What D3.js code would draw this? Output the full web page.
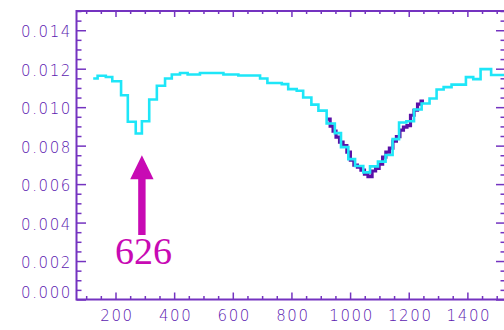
<!DOCTYPE html>
<html>
<head>
<meta charset="utf-8">
<script src="https://cdn.jsdelivr.net/npm/d3@7"></script>
<style>
  body { margin: 0; background: #fff; }
  svg { display: block; }
</style>
</head>
<body>
<figure id="spectrum" style="margin:0"></figure>
<script>
// step series: x = left edge of each step, y = value on that step
var cyanX = [124, 139, 167, 189, 219, 242, 269, 290, 315, 341, 369, 392, 420, 446, 488, 568, 619,
  693, 718, 767, 789, 818, 840, 868, 892, 920, 948, 969, 994, 1017, 1045, 1068, 1095, 1121,
  1145, 1167, 1192, 1218, 1244, 1271, 1295, 1319, 1346, 1395, 1420, 1445, 1481];
var cyanY = [0.01149, 0.01163, 0.01157, 0.01135, 0.01062, 0.00924, 0.00863, 0.00927, 0.01040,
  0.01111, 0.01149, 0.01170, 0.01178, 0.01170, 0.01178, 0.01170, 0.01165, 0.01149, 0.01126,
  0.01120, 0.01094, 0.01085, 0.01050, 0.01013, 0.00982, 0.00915, 0.00865, 0.00792, 0.00730,
  0.00694, 0.00661, 0.00692, 0.00717, 0.00751, 0.00834, 0.00920, 0.00927, 0.00988, 0.01019,
  0.01045, 0.01092, 0.01104, 0.01117, 0.01156, 0.01146, 0.01198, 0.01167];
var cyanEnd = 1530;

var purpleX = [920, 932, 942, 952, 964, 976, 989, 1001, 1013, 1025, 1037, 1049, 1061, 1075,
  1087, 1099, 1111, 1122, 1134, 1146, 1158, 1170, 1182, 1194, 1206, 1218, 1230, 1242];
var purpleY = [0.00938, 0.00901, 0.00875, 0.00844, 0.00818, 0.00800, 0.00766, 0.00725, 0.00699,
  0.00688, 0.00673, 0.00652, 0.00639, 0.00668, 0.00681, 0.00704, 0.00740, 0.00766, 0.00787,
  0.00823, 0.00847, 0.00881, 0.00896, 0.00904, 0.00958, 0.00984, 0.01016, 0.01031];
var purpleEnd = 1252;

var xTicks = [200, 400, 600, 800, 1000, 1200, 1400];
var yTicks = [0.000, 0.002, 0.004, 0.006, 0.008, 0.010, 0.012, 0.014];

// annotation arrow
var arrowX = 290;
var arrowTip = 0.0075;
var arrowBase = 0.00335;
var arrowLabel = "626";
var arrowLabelY = 0.00184;

var axisColor = "#7433c0";
var W = 504, H = 330;
var xMin = 67, xMax = 1530;
var margin = {top: 11, right: -1.5, bottom: 30.5, left: 76.5};

var svg = d3.select('figure#spectrum').append('svg')
  .attr('width', W)
  .attr('height', H);

var x = d3.scaleLinear().domain([xMin, xMax]).range([margin.left, W - margin.right]);
var y = d3.scaleLinear().domain([0, 0.015]).range([H - margin.bottom, margin.top]);

var minorX = d3.range(100, xMax, 50).filter(function(v) { return v % 200 !== 0; });
var minorY = d3.range(0, 0.0151, 0.0005).filter(function(v) { return Math.round(v * 10000) % 20 !== 0; });

var fontStyle = function(sel) {
  sel.selectAll('text')
    .attr('fill', '#5c1ab0')
    .style('font-family', 'DejaVu Sans, sans-serif')
    .style('font-weight', '200')
    .style('font-size', '15px')
    .style('letter-spacing', '1.6px');
};
var cleanAxis = function(g) {
  g.select('.domain').remove();
  g.selectAll('line').attr('stroke', axisColor).attr('stroke-width', 1.5);
};

// bottom axis
var bottom = svg.append('g').attr('transform', 'translate(0,' + y(0) + ')');
bottom.call(d3.axisBottom(x).tickValues(xTicks).tickSize(-7).tickPadding(10.5)
  .tickFormat(d3.format('d')));
bottom.call(cleanAxis).call(fontStyle);
bottom.selectAll('text').attr('dx', '1px');
svg.append('g').attr('transform', 'translate(0,' + y(0) + ')')
  .call(d3.axisBottom(x).tickValues(minorX).tickSize(-3.5).tickFormat(''))
  .call(cleanAxis);

// top axis
svg.append('g').attr('transform', 'translate(0,' + y(0.015) + ')')
  .call(d3.axisTop(x).tickValues(xTicks).tickSize(-6).tickFormat(''))
  .call(cleanAxis);
svg.append('g').attr('transform', 'translate(0,' + y(0.015) + ')')
  .call(d3.axisTop(x).tickValues(minorX).tickSize(-3).tickFormat(''))
  .call(cleanAxis);

// left axis
var left = svg.append('g').attr('transform', 'translate(' + x(xMin) + ',0)');
left.call(d3.axisLeft(y).tickValues(yTicks).tickSize(-9.5).tickPadding(4.5)
  .tickFormat(d3.format('.3f')));
left.call(cleanAxis).call(fontStyle);
left.selectAll('.tick text').attr('dy', function(d) { return d === 0 ? '-0.15em' : '0.45em'; });
svg.append('g').attr('transform', 'translate(' + x(xMin) + ',0)')
  .call(d3.axisLeft(y).tickValues(minorY).tickSize(-5).tickFormat(''))
  .call(cleanAxis);

// right axis
svg.append('g').attr('transform', 'translate(' + x(xMax) + ',0)')
  .call(d3.axisRight(y).tickValues(yTicks).tickSize(-9.5).tickFormat(''))
  .call(cleanAxis);
svg.append('g').attr('transform', 'translate(' + x(xMax) + ',0)')
  .call(d3.axisRight(y).tickValues(minorY).tickSize(-5).tickFormat(''))
  .call(cleanAxis);

// frame
svg.append('rect')
  .attr('x', x(xMin)).attr('y', y(0.015))
  .attr('width', x(xMax) - x(xMin)).attr('height', y(0) - y(0.015))
  .attr('fill', 'none').attr('stroke', axisColor).attr('stroke-width', 2);

// step lines
var stepLine = d3.line()
  .x(function(d) { return x(d[0]); })
  .y(function(d) { return y(d[1]); })
  .curve(d3.curveStepAfter);

var purplePts = purpleX.map(function(v, i) { return [v, purpleY[i]]; });
purplePts.push([purpleEnd, purpleY[purpleY.length - 1]]);
var cyanPts = cyanX.map(function(v, i) { return [v, cyanY[i]]; });
cyanPts.push([cyanEnd, cyanY[cyanY.length - 1]]);

var series = svg.append('g').classed('data-series', true);
series.append('path')
  .attr('d', stepLine(purplePts))
  .attr('fill', 'none')
  .attr('stroke', '#5a10a8')
  .attr('stroke-width', 3.2);
series.append('path')
  .attr('d', stepLine(cyanPts))
  .attr('fill', 'none')
  .attr('stroke', '#1ee6f8')
  .attr('stroke-width', 2.6);

// arrow annotation
var ax = x(arrowX), tipY = y(arrowTip), baseY = y(arrowBase);
var headLen = 24, headW = 11.7, shaftW = 3.7;
svg.append('path')
  .attr('d', 'M' + ax + ',' + tipY +
    'L' + (ax + headW) + ',' + (tipY + headLen) +
    'L' + (ax + shaftW) + ',' + (tipY + headLen) +
    'L' + (ax + shaftW) + ',' + baseY +
    'L' + (ax - shaftW) + ',' + baseY +
    'L' + (ax - shaftW) + ',' + (tipY + headLen) +
    'L' + (ax - headW) + ',' + (tipY + headLen) + 'Z')
  .attr('fill', '#c80ab4');

svg.append('text')
  .attr('x', ax + 1.5)
  .attr('y', y(arrowLabelY))
  .attr('text-anchor', 'middle')
  .attr('fill', '#c80ab4')
  .style('font-family', 'Liberation Serif, serif')
  .style('font-size', '38px')
  .text(arrowLabel);
</script>
</body>
</html>
